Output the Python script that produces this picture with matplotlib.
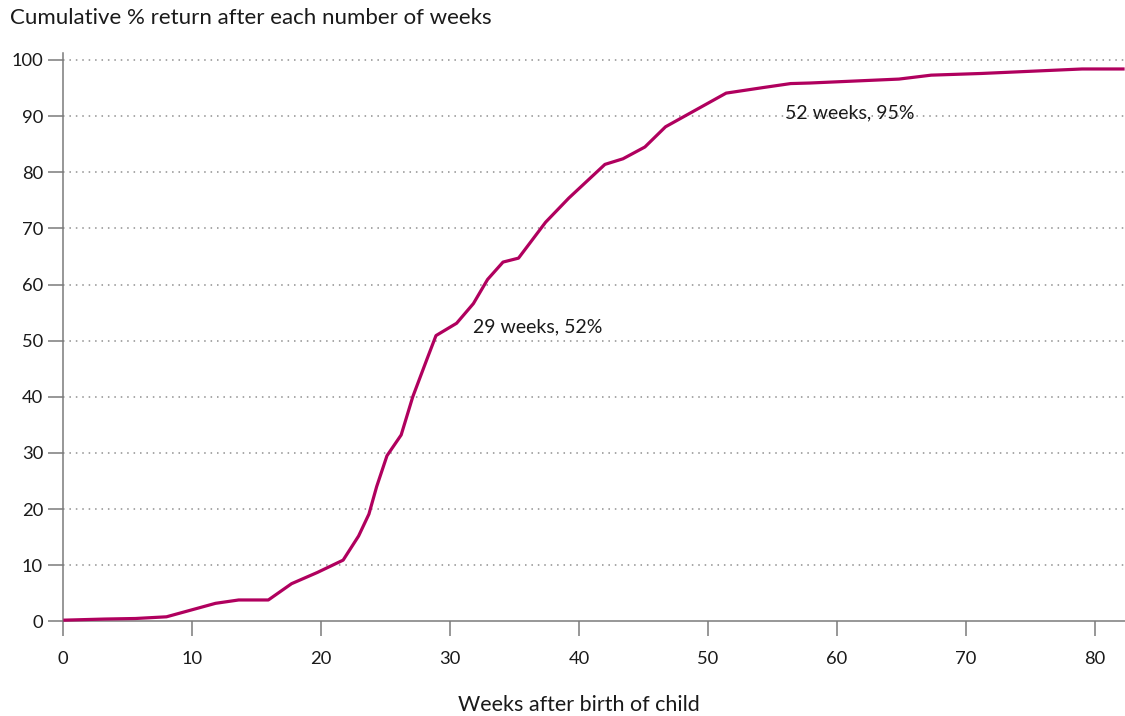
import matplotlib
matplotlib.use("Agg")
import matplotlib.pyplot as plt

# Cumulative share of mothers who have returned to work, by weeks since the birth
weeks = [0.0, 3.2, 5.6, 8.0, 11.8, 13.6, 15.9, 17.7, 19.7, 21.7, 22.9, 23.7,
         24.3, 25.1, 26.2, 27.1, 28.2, 28.9, 30.5, 31.8, 32.9, 34.1, 35.3,
         37.4, 39.2, 42.0, 43.4, 45.1, 46.7, 51.4, 54.3, 56.4, 57.9, 64.8,
         67.3, 71.2, 79.0, 82.3]
cum_pct = [0.2, 0.4, 0.5, 0.8, 3.2, 3.8, 3.8, 6.7, 8.7, 10.9, 15.2, 19.1,
           24.0, 29.5, 33.2, 40.0, 46.7, 50.9, 53.1, 56.6, 60.9, 64.0, 64.7,
           71.1, 75.4, 81.4, 82.4, 84.5, 88.1, 94.1, 95.1, 95.8, 95.9, 96.6,
           97.3, 97.6, 98.4, 98.4]

x_ticks = [0, 10, 20, 30, 40, 50, 60, 70, 80]
y_ticks = [0, 10, 20, 30, 40, 50, 60, 70, 80, 90, 100]

title = "Cumulative % return after each number of weeks"
x_label = "Weeks after birth of child"
callouts = [("29 weeks, 52%", 31.8, 52.4), ("52 weeks, 95%", 56.0, 90.6)]

LINE = "#b0005e"
AXIS = "#7a7a7a"
GRID = "#8f8f8f"
TEXT = "#1a1a1a"

plt.rcParams["font.family"] = ["Lato", "DejaVu Sans"]

W, H = 1125, 716
fig = plt.figure(figsize=(W / 100, H / 100), dpi=100)
left, bottom, top = 63.3, 621.3, 52.7
ax = fig.add_axes([left / W, (H - bottom) / H, 1 - left / W, (bottom - top) / H])

ax.plot(weeks, cum_pct, color=LINE, lw=2.3, zorder=3, clip_on=False,
        solid_joinstyle="round", solid_capstyle="butt")

ax.set_xlim(0, 82.33)
ax.set_ylim(0, 101.3)
ax.set_xticks(x_ticks)
ax.set_yticks(y_ticks)

for side in ("top", "right"):
    ax.spines[side].set_visible(False)
for side in ("left", "bottom"):
    ax.spines[side].set_color(AXIS)
    ax.spines[side].set_linewidth(1.1)

ax.tick_params(axis="both", length=10.5, width=1.1, color=AXIS,
               labelsize=13.2, labelcolor=TEXT)
ax.tick_params(axis="y", pad=4)
ax.tick_params(axis="x", pad=11)

for y in y_ticks[1:]:
    ax.axhline(y, color=GRID, lw=1.1, ls=(0, (1, 3.2)), zorder=1)

for label, x, y in callouts:
    ax.text(x, y, label, fontsize=14, color=TEXT, va="center", ha="left",
            zorder=4)

fig.text(10 / W, 1 - 18 / H, title, fontsize=16, color=TEXT,
         ha="left", va="center")
fig.text(579 / W, 1 - 705 / H, x_label, fontsize=15.5, color=TEXT,
         ha="center", va="center")

fig.savefig("out.png", dpi=100)
